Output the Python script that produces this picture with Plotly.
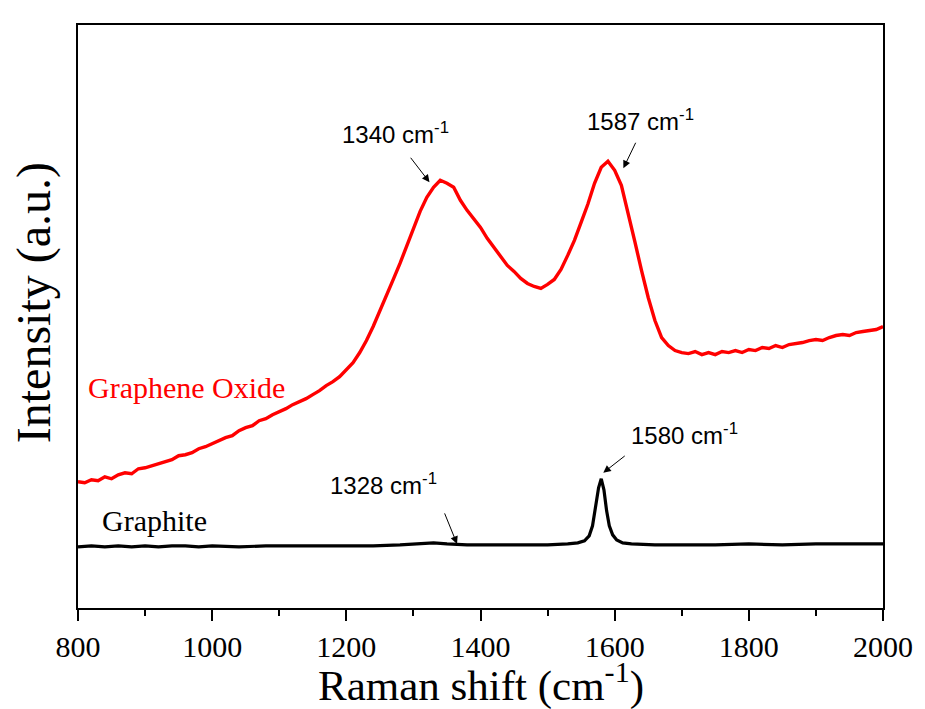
import plotly.graph_objects as go

# Graphene oxide spectrum (Raman shift in cm-1, intensity a.u.)
go_x = list(range(800, 2001, 10))
go_y = [126, 125, 128, 127, 131, 129, 133, 135, 134, 139,
        140, 142, 144, 146, 148, 152, 153, 155, 159, 161,
        164, 167, 170, 172, 177, 180, 182, 187, 189, 193,
        196, 199, 203, 206, 209, 213, 217, 222, 226, 231,
        238, 245, 255, 267, 281, 296, 311, 328, 344, 362,
        380, 396, 410, 420, 427, 424, 420, 407, 397, 388,
        380, 369, 360, 350, 342, 336, 329, 324, 321, 319,
        323, 328, 338, 352, 367, 385, 403, 424, 440, 446,
        437, 422, 395, 366, 337, 310, 287, 270, 262, 257,
        255, 254, 256, 253, 255, 253, 256, 255, 257, 255,
        258, 257, 260, 259, 262, 260, 263, 264, 265, 267,
        268, 267, 270, 272, 273, 272, 275, 276, 277, 278,
        281]

# Graphite spectrum
gr_x = [800, 820, 840, 860, 880, 900, 920, 940, 960, 980,
        1000, 1040, 1080, 1120, 1160, 1200, 1240, 1280, 1310, 1330,
        1350, 1380, 1420, 1460, 1500, 1530, 1545, 1555, 1562, 1567,
        1572, 1576, 1580, 1584, 1588, 1592, 1597, 1603, 1612, 1625,
        1660, 1700, 1750, 1800, 1850, 1900, 1950, 2000]
gr_y = [61, 62, 61, 62, 61, 62, 61, 62, 62, 61,
        62, 61, 62, 62, 62, 62, 62, 63, 64, 65,
        64, 63, 63, 63, 63, 64, 65, 67, 72, 82,
        102, 120, 129, 118, 97, 82, 73, 68, 65, 64,
        63, 63, 63, 64, 63, 64, 64, 64]

x_ticks = [800, 1000, 1200, 1400, 1600, 1800, 2000]

# Peak annotations
peak_labels = ["1340 cm<sup>-1</sup>", "1587 cm<sup>-1</sup>",
               "1328 cm<sup>-1</sup>", "1580 cm<sup>-1</sup>"]
label_x = [1273, 1638, 1256, 1704]
label_y = [474, 487, 124, 174]
head_x = [1324, 1613, 1365, 1583]
head_y = [425, 439, 64, 135]
tail_dx = [-20, 13, -13, 23]
tail_dy = [-26, -27, -32, -18]

SERIF = "Liberation Serif"
SANS = "Liberation Sans"

fig = go.Figure()
fig.add_trace(go.Scatter(x=go_x, y=go_y, mode="lines",
                         line=dict(color="#ff0000", width=3.4), showlegend=False))
fig.add_trace(go.Scatter(x=gr_x, y=gr_y, mode="lines",
                         line=dict(color="#000000", width=3.2), showlegend=False))

ann = []
for lab, tx, ty in zip(peak_labels, label_x, label_y):
    ann.append(dict(x=tx, y=ty, text=lab, showarrow=False,
                    font=dict(family=SANS, size=24, color="black")))
for hx, hy, dx, dy in zip(head_x, head_y, tail_dx, tail_dy):
    ann.append(dict(x=hx, y=hy, text="", showarrow=True, ax=dx, ay=dy,
                    arrowhead=2, arrowsize=1.5, arrowwidth=1, arrowcolor="black"))
ann.append(dict(x=962, y=220, text="Graphene Oxide", showarrow=False,
                font=dict(family=SERIF, size=30, color="#ff0000")))
ann.append(dict(x=914, y=87, text="Graphite", showarrow=False,
                font=dict(family=SERIF, size=30, color="black")))
# axis titles
ann.append(dict(x=0.5, y=-0.127, xref="paper", yref="paper", xanchor="center", yanchor="middle",
                text="Raman shift (cm<sup>-1</sup>)", showarrow=False,
                font=dict(family=SERIF, size=43, color="black")))
ann.append(dict(x=-0.055, y=0.524, xref="paper", yref="paper", xanchor="center", yanchor="middle",
                text="Intensity (a.u.)", textangle=-90, showarrow=False,
                font=dict(family=SERIF, size=48, color="black")))

fig.update_layout(
    width=925, height=709,
    margin=dict(l=78, r=37, t=25, b=101),
    paper_bgcolor="white", plot_bgcolor="white",
    annotations=ann,
    font=dict(family=SERIF, color="black", size=30),
)
fig.update_xaxes(
    range=[800, 2000], tickvals=x_ticks,
    showline=True, linecolor="black", linewidth=2, mirror=True,
    ticks="outside", ticklen=11, tickwidth=2, tickcolor="black",
    minor=dict(dtick=100, tick0=800, ticks="outside", ticklen=6, tickwidth=2, tickcolor="black"),
    showgrid=False, zeroline=False,
    tickfont=dict(family=SERIF, size=30, color="black"),
)
fig.update_yaxes(
    range=[0, 582], showticklabels=False, ticks="",
    showline=True, linecolor="black", linewidth=2, mirror=True,
    showgrid=False, zeroline=False,
)
fig.write_html("out.html")
